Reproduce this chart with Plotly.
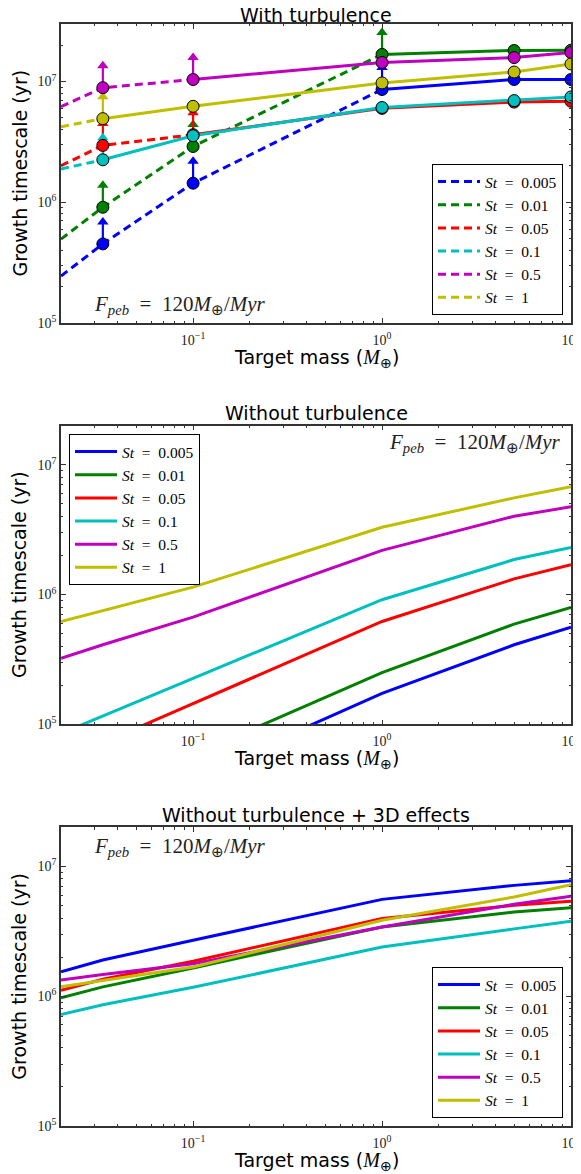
import math
import plotly.graph_objects as go

# ---------------- data ----------------
st_labels = ["0.005", "0.01", "0.05", "0.1", "0.5", "1"]
colors = ["#0000ff", "#008000", "#ff0000", "#00bfbf", "#bf00bf", "#bfbf00"]

# Panel 1: with turbulence (markers at these masses)
mass_pts = [0.0333, 0.1, 1, 5, 10]
mass_edge = 0.02
turb_edge = [2.45e5, 4.95e5, 2.01e6, 1.89e6, 6.2e6, 4.23e6]
turb_blue = [4.52e5, 1.44e6, 8.6e6, 1.04e7, 1.04e7]
turb_green = [9.1e5, 2.90e6, 1.68e7, 1.81e7, 1.82e7]
turb_red = [2.96e6, 3.63e6, 6.0e6, 6.76e6, 6.87e6]
turb_cyan = [2.25e6, 3.56e6, 6.1e6, 6.96e6, 7.46e6]
turb_magenta = [8.9e6, 1.04e7, 1.44e7, 1.58e7, 1.74e7]
turb_yellow = [4.93e6, 6.24e6, 9.75e6, 1.20e7, 1.40e7]
turb_series = [turb_blue, turb_green, turb_red, turb_cyan, turb_magenta, turb_yellow]
# number of leading points that are lower limits (dashed + arrow)
turb_nlimit = [3, 3, 2, 1, 2, 1]

# Panels 2 and 3: continuous curves
mass_curve = [0.02, 0.0333, 0.1, 1, 5, 10]
noturb = [
    [None, None, 3.9e4, 1.73e5, 4.1e5, 5.61e5],
    [None, None, 5.8e4, 2.5e5, 5.92e5, 7.95e5],
    [None, 7.2e4, 1.45e5, 6.2e5, 1.32e6, 1.70e6],
    [8.5e4, 1.16e5, 2.27e5, 9.12e5, 1.86e6, 2.31e6],
    [3.23e5, 4.1e5, 6.7e5, 2.19e6, 4.01e6, 4.74e6],
    [6.2e5, 7.5e5, 1.14e6, 3.30e6, 5.56e6, 6.76e6],
]
noturb3d = [
    [1.54e6, 1.9e6, 2.70e6, 5.57e6, 7.14e6, 7.76e6],
    [9.7e5, 1.18e6, 1.65e6, 3.41e6, 4.45e6, 4.81e6],
    [1.11e6, 1.35e6, 1.86e6, 3.96e6, 5.01e6, 5.38e6],
    [7.23e5, 8.6e5, 1.17e6, 2.39e6, 3.3e6, 3.78e6],
    [1.33e6, 1.47e6, 1.78e6, 3.41e6, 5.1e6, 5.88e6],
    [1.18e6, 1.32e6, 1.68e6, 3.84e6, 5.81e6, 7.23e6],
]

x_tickvals = [0.1, 1, 10]
x_ticktext = ["10<sup>−1</sup>", "10<sup>0</sup>", "10<sup>1</sup>"]
y_tickvals = [1e5, 1e6, 1e7]
y_ticktext = ["10<sup>5</sup>", "10<sup>6</sup>", "10<sup>7</sup>"]

titles = ["With turbulence", "Without turbulence", "Without turbulence + 3D effects"]
fpeb_text = "<i>F</i><sub><i>peb</i></sub>\u2002=\u2002120<i>M</i><sub>⊕</sub>/<i>Myr</i>"
xtitle = ("Target mass (<span style=\"font-family:'Liberation Serif';font-size:20px\">"
          "<i>M</i><sub>⊕</sub></span>)")
ytitle = "Growth timescale (yr)"

# ---------------- layout geometry ----------------
OFF = 8                      # browser default body margin
W, H = 581 - OFF, 1174 - OFF
L_px, R_px = 61 - OFF, 571 - OFF
panels_px = [(24 - OFF, 323 - OFF), (425.7 - OFF, 724.3 - OFF), (827.3 - OFF, 1126 - OFF)]
title_gap = [9.5, 12.5, 12.5]
y_ranges = [(1e5, 3e7), (1e5, 2e7), (1e5, 2e7)]
ARROW_SHAFT = 1.5            # arrow length factors (visual style)
ARROW_HEAD = 1.52

SERIF = "Liberation Serif"
SANS = "DejaVu Sans"
FRAME = "#333333"

fig = go.Figure()


def py(y):
    return 1 - y / H


def pxx(x):
    return x / W


x_minor = [m * 10 ** e for e in (-2, -1, 0) for m in range(2, 10)]
y_minor = [m * 10 ** e for e in (5, 6, 7) for m in range(2, 10)]

axis_common = dict(
    type="log", showgrid=False, zeroline=False, showline=True,
    linecolor=FRAME, linewidth=1.5, mirror="allticks",
    ticks="inside", ticklen=5, tickwidth=1, tickcolor=FRAME,
    tickfont=dict(family=SERIF, size=14, color="#222"),
    automargin=False,
)

for i, (top, bot) in enumerate(panels_px):
    sfx = "" if i == 0 else str(i + 1)
    ymin, ymax = y_ranges[i]
    fig.update_layout(**{
        "xaxis" + sfx: dict(axis_common, domain=[pxx(L_px), pxx(R_px)],
                            anchor="y" + sfx, ticklabelstandoff=3,
                            range=[math.log10(0.02), 1],
                            tickvals=x_tickvals, ticktext=x_ticktext,
                            minor=dict(tickvals=x_minor, ticks="inside", ticklen=2.5,
                                       tickcolor=FRAME, showgrid=False)),
        "yaxis" + sfx: dict(axis_common, domain=[py(bot), py(top)],
                            anchor="x" + sfx,
                            range=[math.log10(ymin), math.log10(ymax)],
                            tickvals=y_tickvals, ticktext=y_ticktext,
                            minor=dict(tickvals=y_minor, ticks="inside", ticklen=2.5,
                                       tickcolor=FRAME, showgrid=False)),
    })

# ---------------- panel 1 ----------------
for k in range(6):
    vals = turb_series[k]
    n = turb_nlimit[k]
    c = colors[k]
    dx = [mass_edge] + mass_pts[:n]
    dy = [turb_edge[k]] + vals[:n]
    fig.add_trace(go.Scatter(x=dx, y=dy, mode="lines", xaxis="x", yaxis="y",
                             line=dict(color=c, width=3, dash="8px,5px"),
                             name=f"<i>St</i>\u2002=\u2002{st_labels[k]}", legend="legend"))
    fig.add_trace(go.Scatter(x=mass_pts[n - 1:], y=vals[n - 1:], mode="lines",
                             xaxis="x", yaxis="y", line=dict(color=c, width=3),
                             showlegend=False))

# lower-limit arrows (shaft + head) drawn from the data points
for k in range(6):
    vals = turb_series[k]
    n = turb_nlimit[k]
    c = colors[k]
    sx, sy, hx, hy = [], [], [], []
    for j in range(n):
        sx += [mass_pts[j], mass_pts[j], None]
        sy += [vals[j], vals[j] * ARROW_SHAFT, None]
        hx.append(mass_pts[j])
        hy.append(vals[j] * ARROW_HEAD)
    fig.add_trace(go.Scatter(x=sx, y=sy, mode="lines", xaxis="x", yaxis="y",
                             line=dict(color=c, width=2.2), showlegend=False))
    fig.add_trace(go.Scatter(x=hx, y=hy, mode="markers", xaxis="x", yaxis="y",
                             marker=dict(symbol="triangle-up", size=10, color=c,
                                         line=dict(width=0)),
                             showlegend=False))

for k in range(6):
    fig.add_trace(go.Scatter(x=mass_pts, y=turb_series[k], mode="markers",
                             xaxis="x", yaxis="y", showlegend=False,
                             marker=dict(size=12, color=colors[k],
                                         line=dict(color="black", width=1))))

# ---------------- panels 2 & 3 ----------------
for k in range(6):
    fig.add_trace(go.Scatter(x=mass_curve, y=noturb[k], mode="lines",
                             xaxis="x2", yaxis="y2", line=dict(color=colors[k], width=3),
                             name=f"<i>St</i>\u2002=\u2002{st_labels[k]}", legend="legend2"))
for k in range(6):
    fig.add_trace(go.Scatter(x=mass_curve, y=noturb3d[k], mode="lines",
                             xaxis="x3", yaxis="y3", line=dict(color=colors[k], width=3),
                             name=f"<i>St</i>\u2002=\u2002{st_labels[k]}", legend="legend3"))

# ---------------- text ----------------
annotations = []
cx = pxx((L_px + R_px) / 2)
for i, (top, bot) in enumerate(panels_px):
    annotations.append(dict(text=titles[i], x=cx, y=py(top - title_gap[i]), xref="paper",
                            yref="paper", xanchor="center", yanchor="middle", showarrow=False,
                            font=dict(family=SANS, size=19, color="black")))
    annotations.append(dict(text=xtitle, x=cx, y=py(bot + 35), xref="paper", yref="paper",
                            xanchor="center", yanchor="middle", showarrow=False,
                            font=dict(family=SANS, size=19, color="black")))
    annotations.append(dict(text=ytitle, x=pxx(19 - OFF), y=py((top + bot) / 2), xref="paper",
                            yref="paper", xanchor="center", yanchor="middle", textangle=-90,
                            showarrow=False, font=dict(family=SANS, size=19, color="black")))

fpeb_pos = [(92, 305, "left"), (563, 443, "right"), (92, 847, "left")]
for (fx, fy, anc) in fpeb_pos:
    annotations.append(dict(text=fpeb_text, x=pxx(fx - OFF), y=py(fy - OFF), xref="paper",
                            yref="paper", xanchor=anc, yanchor="middle", showarrow=False,
                            font=dict(family=SERIF, size=21, color="#222")))

legend_common = dict(bgcolor="white", bordercolor="black", borderwidth=1,
                     font=dict(family=SERIF, size=15.5, color="black"),
                     tracegroupgap=0, itemwidth=42)

fig.update_layout(
    width=W, height=H, autosize=False,
    margin=dict(l=0, r=0, t=0, b=0),
    paper_bgcolor="white", plot_bgcolor="white",
    annotations=annotations,
    legend=dict(legend_common, x=pxx(563 - OFF), y=py(315 - OFF), xanchor="right", yanchor="bottom"),
    legend2=dict(legend_common, x=pxx(69 - OFF), y=py(434 - OFF), xanchor="left", yanchor="top"),
    legend3=dict(legend_common, x=pxx(563 - OFF), y=py(1118 - OFF), xanchor="right", yanchor="bottom"),
)

fig.write_html("out.html")
